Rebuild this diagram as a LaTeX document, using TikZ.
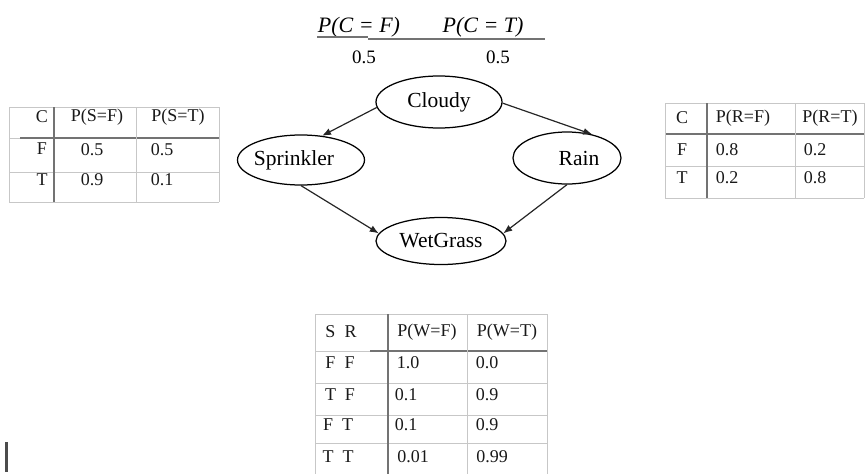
\documentclass[tikz,border=0pt]{standalone}
\usepackage{fontspec}
\setmainfont{Liberation Serif}
\usetikzlibrary{shapes.geometric,arrows.meta}
\begin{document}
\begin{tikzpicture}[x=1pt,y=-1pt,
  gfont/.style={font=\fontsize{21.5}{25}\selectfont},
  gnode/.style={ellipse,draw=black,line width=1.25pt,inner sep=0pt,gfont},
  edgearrow/.style={-{Latex[length=9pt,width=7pt]},line width=1.2pt,black!85},
  tcell/.style={inner sep=0pt,font=\fontsize{18}{21}\selectfont,text=black!90},
  thinrule/.style={draw=black!22,line width=0.9pt},
  thickrule/.style={draw=black!55,line width=1.5pt},
  toptxt/.style={inner sep=0pt,font=\fontsize{22}{26}\selectfont},
  topval/.style={inner sep=0pt,font=\fontsize{19}{22}\selectfont}]
\useasboundingbox (0,0) rectangle (865,474);

% prior of Cloudy
\node[toptxt] (pcf) at (359,27) {\itshape P(C = F)};
\node[toptxt] (pct) at (483,27) {\itshape P(C = T)};
\node[topval] (vcf) at (364,57) {0.5};
\node[topval] (vct) at (498,57) {0.5};
\draw[thickrule,line width=1.2pt] (317,37) -- (368,37);
\draw[thickrule,line width=1.2pt] (368,39) -- (545,39);

% network
\node[gnode,minimum width=126pt,minimum height=52pt] (c) at (439,102) {Cloudy};
\node[gnode,minimum width=127pt,minimum height=50pt] (s) at (301,160) {\hspace*{-14pt}Sprinkler};
\node[gnode,minimum width=108pt,minimum height=52pt,label={[gfont,xshift=12pt]center:Rain}] (r) at (567,158) {};
\node[gnode,minimum width=130pt,minimum height=47pt] (w) at (441,241) {WetGrass};

\draw[edgearrow] (c.185) -- (s.49);
\draw[edgearrow] (c.359) -- (r.43);
\draw[edgearrow] (s.south) -- (w.173);
\draw[edgearrow] (r.south) -- (w.7);

% left table
\foreach \yy in {107,138,172,202} \draw[thinrule] (9,\yy) -- (219,\yy);
\draw[thickrule] (20,138) -- (219,138);
\foreach \xx in {9,136,219} \draw[thinrule] (\xx,107) -- (\xx,202);
\draw[thickrule] (54,107) -- (54,202);
\node[tcell] (l11) at (42,117) {C};
\node[tcell] (l12) at (97,117) {P(S=F)};
\node[tcell] (l13) at (178,117) {P(S=T)};
\node[tcell] (l21) at (42,149) {F};
\node[tcell] (l22) at (92,150) {0.5};
\node[tcell] (l23) at (162,150) {0.5};
\node[tcell] (l31) at (42,180) {T};
\node[tcell] (l32) at (92,180) {0.9};
\node[tcell] (l33) at (162,180) {0.1};

% right table
\foreach \yy in {103,134,166,198} \draw[thinrule] (665,\yy) -- (864,\yy);
\draw[thickrule] (665,134) -- (864,134);
\foreach \xx in {665,795,864} \draw[thinrule] (\xx,103) -- (\xx,198);
\draw[thickrule] (707,103) -- (707,198);
\node[tcell] (r11) at (682,118) {C};
\node[tcell] (r12) at (743,118) {P(R=F)};
\node[tcell] (r13) at (830,118) {P(R=T)};
\node[tcell] (r21) at (682,150) {F};
\node[tcell] (r22) at (727,150) {0.8};
\node[tcell] (r23) at (815,150) {0.2};
\node[tcell] (r31) at (682,178) {T};
\node[tcell] (r32) at (727,178) {0.2};
\node[tcell] (r33) at (815,178) {0.8};

% bottom table
\foreach \yy in {314,351,383,415,443} \draw[thinrule] (315,\yy) -- (547,\yy);
\draw[thickrule] (370,351) -- (547,351);
\foreach \xx in {315,467,547} \draw[thinrule] (\xx,314) -- (\xx,474);
\draw[thickrule] (388,314) -- (388,474);
\node[tcell] (b11) at (341,332) {S\hspace*{9pt}R};
\node[tcell] (b12) at (427,332) {P(W=F)};
\node[tcell] (b13) at (507,332) {P(W=T)};
\node[tcell] (b21) at (340,363) {F\hspace*{9pt}F};
\node[tcell] (b22) at (408,363) {1.0};
\node[tcell] (b23) at (487,363) {0.0};
\node[tcell] (b31) at (340,395) {T\hspace*{9pt}F};
\node[tcell] (b32) at (406,395) {0.1};
\node[tcell] (b33) at (487,395) {0.9};
\node[tcell] (b41) at (338,425) {F\hspace*{9pt}T};
\node[tcell] (b42) at (406,425) {0.1};
\node[tcell] (b43) at (487,425) {0.9};
\node[tcell] (b51) at (338,457) {T\hspace*{9pt}T};
\node[tcell] (b52) at (413,457) {0.01};
\node[tcell] (b53) at (492,457) {0.99};

% text cursor
\fill[black!70] (5,442) rectangle (7.5,472);
\end{tikzpicture}
\end{document}
